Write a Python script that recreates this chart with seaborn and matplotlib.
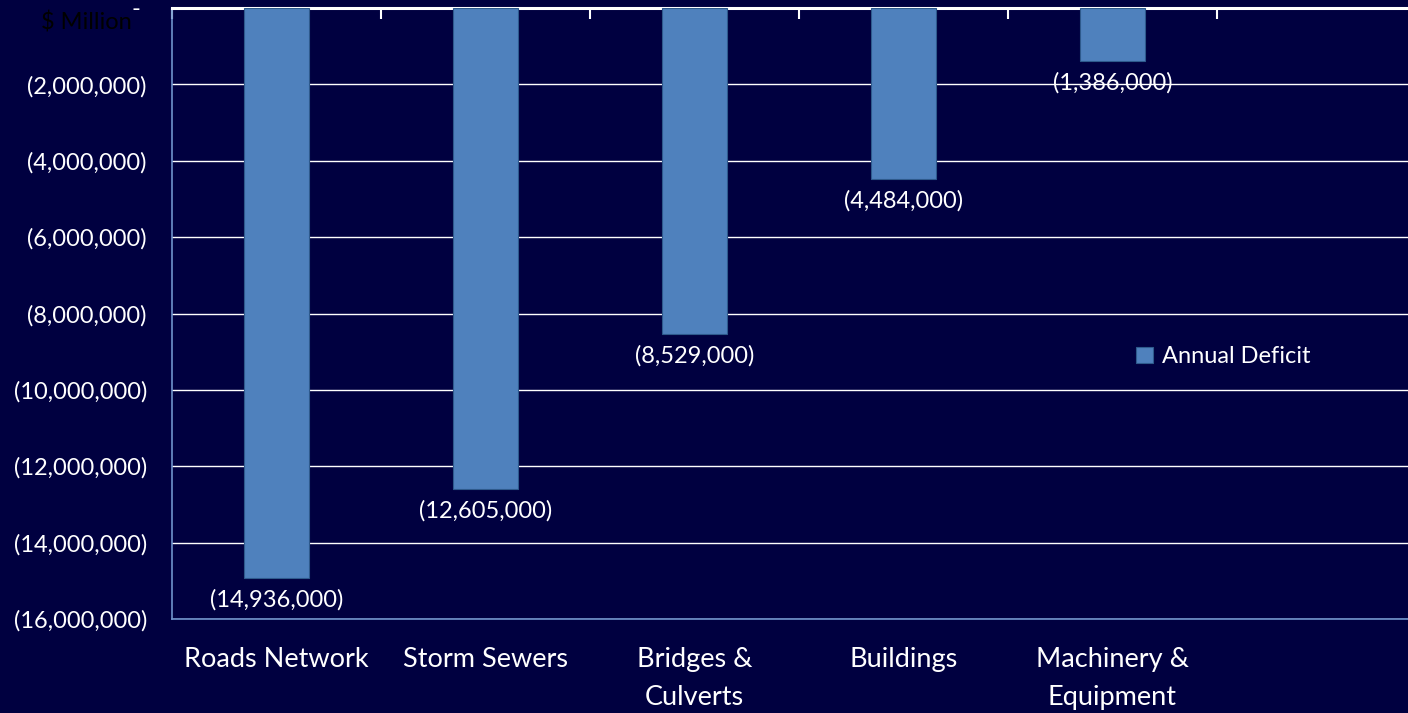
import matplotlib
matplotlib.use("Agg")
import matplotlib.pyplot as plt
import pandas as pd
import seaborn as sns

# data
categories = ["Roads Network", "Storm Sewers", "Bridges &\nCulverts", "Buildings", "Machinery &\nEquipment"]
deficit = [-14936000, -12605000, -8529000, -4484000, -1386000]
y_ticks = [0, -2000000, -4000000, -6000000, -8000000, -10000000, -12000000, -14000000, -16000000]

BG = "#000040"
BAR = "#4F81BD"

sns.set_style("white")
plt.rcParams["font.family"] = ["Lato", "DejaVu Sans"]

df = pd.DataFrame({"Category": categories, "Annual Deficit": deficit})

fig = plt.figure(figsize=(14.08, 7.13), dpi=100, facecolor=BG)
ax = fig.add_axes([172 / 1408, 1 - 619 / 713, (1426 - 172) / 1408, (619 - 8) / 713])
ax.set_facecolor(BG)

sns.barplot(data=df, x="Category", y="Annual Deficit", color=BAR, saturation=1, width=0.31,
            edgecolor="#2E5A8C", linewidth=0.8, label="Annual Deficit", ax=ax, zorder=3)

ax.set_xlim(-0.5, 5.5)
ax.set_ylim(-16000000, 0)
ax.set_yticks(y_ticks)
ax.set_yticklabels(["- " if v == 0 else "({:,.0f})".format(-v) for v in y_ticks],
                   color="white", fontsize=17)
ax.yaxis.grid(True, color="white", linewidth=1.0, zorder=0)
ax.set_axisbelow(True)

# category labels at bottom, boundary ticks on the zero line at top
ax.set_xticks(range(6))
ax.set_xticklabels(categories + [""], color="white", fontsize=19.5, linespacing=1.65)
ax.set_xticks([i - 0.5 for i in range(7)], minor=True)
ax.tick_params(axis="x", which="major", length=0, pad=20)
ax.tick_params(axis="x", which="minor", top=True, bottom=False, direction="in",
               length=8, width=1.5, color="white")
ax.tick_params(axis="y", length=0, pad=18)
ax.set_xlabel("")
ax.set_ylabel("")

for side in ["left", "bottom"]:
    ax.spines[side].set_color("#6F93CC")
    ax.spines[side].set_linewidth(1.2)
ax.spines["right"].set_visible(False)
ax.spines["top"].set_color("white")
ax.spines["top"].set_linewidth(2.2)

ax.bar_label(ax.containers[0], labels=["({:,.0f})".format(-v) for v in deficit],
             padding=8, color="white", fontsize=17)

leg = ax.legend(loc="center left", bbox_to_anchor=(0.752, 0.429), frameon=False,
                handlelength=0.7, handleheight=0.7, handletextpad=0.4, fontsize=17)
for t in leg.get_texts():
    t.set_color("white")

fig.text(86 / 1408, 1 - 23 / 713, "$ Million", color="black", ha="center", va="center", fontsize=17)

fig.savefig("out.png", dpi=100, facecolor=BG)
